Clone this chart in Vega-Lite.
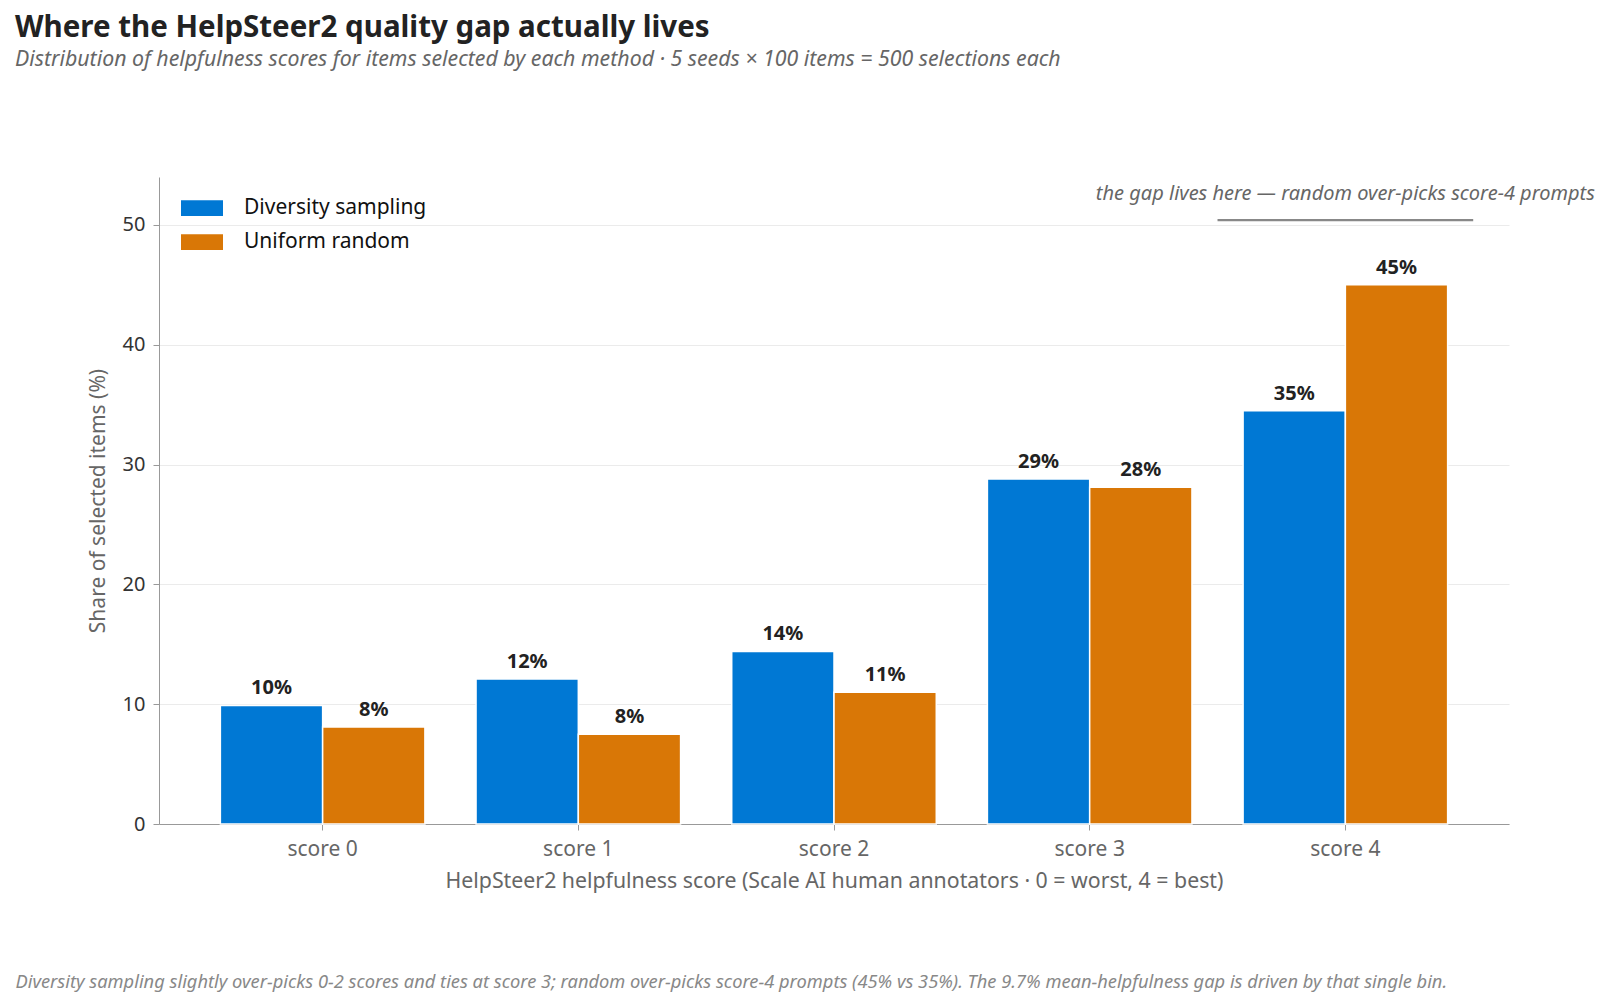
{
  "$schema": "https://vega.github.io/schema/vega-lite/v6.json",
  "width": 1350,
  "height": 647,
  "autosize": {"type": "none"},
  "padding": {"left": 159, "top": 177, "right": 105, "bottom": 182},
  "background": "white",
  "config": {
    "view": {"stroke": null},
    "font": "Noto Sans"
  },
  "title": {
    "text": "Where the HelpSteer2 quality gap actually lives",
    "subtitle": "Distribution of helpfulness scores for items selected by each method · 5 seeds × 100 items = 500 selections each",
    "anchor": "start",
    "frame": "group",
    "dx": -144,
    "offset": 106,
    "fontSize": 29.5,
    "fontWeight": "bold",
    "color": "#222222",
    "subtitleFontSize": 21.3,
    "subtitleFontStyle": "italic",
    "subtitleColor": "#666666",
    "subtitlePadding": 5
  },
  "datasets": {
    "shares": [
      {"score": "score 0", "method": "Diversity sampling", "share": 9.9},
      {"score": "score 0", "method": "Uniform random", "share": 8.1},
      {"score": "score 1", "method": "Diversity sampling", "share": 12.1},
      {"score": "score 1", "method": "Uniform random", "share": 7.5},
      {"score": "score 2", "method": "Diversity sampling", "share": 14.4},
      {"score": "score 2", "method": "Uniform random", "share": 11.0},
      {"score": "score 3", "method": "Diversity sampling", "share": 28.8},
      {"score": "score 3", "method": "Uniform random", "share": 28.1},
      {"score": "score 4", "method": "Diversity sampling", "share": 34.5},
      {"score": "score 4", "method": "Uniform random", "share": 45.0}
    ],
    "note": [
      {"score": "score 4", "line_lo": 50.3, "line_hi": 50.5, "text_y": 52.6, "note": "the gap lives here — random over-picks score-4 prompts"}
    ]
  },
  "layer": [
    {
      "data": {"name": "shares"},
      "mark": {"type": "bar", "stroke": "white", "strokeWidth": 1.5},
      "encoding": {
        "x": {
          "field": "score",
          "type": "nominal",
          "sort": ["score 0", "score 1", "score 2", "score 3", "score 4"],
          "scale": {"paddingInner": 0, "paddingOuter": 0.14},
          "axis": {
            "orient": "bottom",
            "title": "HelpSteer2 helpfulness score (Scale AI human annotators · 0 = worst, 4 = best)",
            "titleFontSize": 21.3,
            "titleFontWeight": "normal",
            "titleColor": "#666666",
            "titlePadding": 11,
            "labelAngle": 0,
            "labelFontSize": 21,
            "labelColor": "#666666",
            "labelPadding": 8,
            "tickSize": 6,
            "tickColor": "#999999",
            "domainColor": "#999999",
            "grid": false
          }
        },
        "xOffset": {
          "field": "method",
          "type": "nominal",
          "scale": {"paddingInner": 0, "paddingOuter": 0.25}
        },
        "y": {
          "field": "share",
          "type": "quantitative",
          "scale": {"domain": [0, 54], "nice": false},
          "axis": {
            "values": [0, 10, 20, 30, 40, 50],
            "title": "Share of selected items (%)",
            "titleFontSize": 21,
            "titleFontWeight": "normal",
            "titleColor": "#666666",
            "titlePadding": 14,
            "labelFontSize": 20,
            "labelColor": "#333333",
            "labelPadding": 8,
            "tickSize": 6,
            "tickColor": "#999999",
            "domainColor": "#999999",
            "gridColor": "#ebebeb",
            "gridWidth": 1
          }
        },
        "color": {
          "field": "method",
          "type": "nominal",
          "scale": {"domain": ["Diversity sampling", "Uniform random"], "range": ["#0078D4", "#D97706"]},
          "legend": {
            "title": null,
            "orient": "none",
            "legendX": 32.5,
            "legendY": 20.5,
            "padding": 0,
            "symbolType": "M-2,-0.75H2V0.75H-2Z",
            "symbolSize": 441,
            "symbolStrokeWidth": 0,
            "labelFontSize": 21,
            "labelColor": "#111111",
            "labelOffset": 31.5,
            "labelLimit": 0,
            "rowPadding": 12
          }
        }
      }
    },
    {
      "data": {"name": "shares"},
      "transform": [
        {"calculate": "format(datum.share, '.0f') + '%'", "as": "share_label"}
      ],
      "mark": {"type": "text", "fontSize": 20, "fontWeight": "bold", "color": "#222222", "baseline": "alphabetic", "dy": -11},
      "encoding": {
        "x": {"field": "score", "type": "nominal", "sort": ["score 0", "score 1", "score 2", "score 3", "score 4"], "axis": null},
        "xOffset": {"field": "method", "type": "nominal"},
        "y": {"field": "share", "type": "quantitative"},
        "text": {"field": "share_label"}
      }
    },
    {
      "data": {"name": "note"},
      "mark": {"type": "bar", "color": "#888888"},
      "encoding": {
        "x": {"field": "score", "type": "nominal", "axis": null},
        "y": {"field": "line_lo", "type": "quantitative"},
        "y2": {"field": "line_hi"}
      }
    },
    {
      "data": {"name": "note"},
      "mark": {"type": "text", "fontSize": 20, "fontStyle": "italic", "color": "#666666", "align": "center", "baseline": "middle"},
      "encoding": {
        "x": {
          "field": "score",
          "type": "nominal",
          "axis": {
            "orient": "bottom",
            "labels": false,
            "ticks": false,
            "domain": false,
            "grid": false,
            "title": "Diversity sampling slightly over-picks 0-2 scores and ties at score 3; random over-picks score-4 prompts (45% vs 35%). The 9.7% mean-helpfulness gap is driven by that single bin.",
            "titleFontSize": 18.3,
            "titleFontStyle": "italic",
            "titleFontWeight": "normal",
            "titleColor": "#888888",
            "titleAnchor": "start",
            "titleAlign": "left",
            "titleBaseline": "alphabetic",
            "titleX": -144,
            "titleY": 163
          }
        },
        "y": {"field": "text_y", "type": "quantitative"},
        "text": {"field": "note"}
      }
    }
  ],
  "resolve": {"axis": {"x": "independent"}}
}
